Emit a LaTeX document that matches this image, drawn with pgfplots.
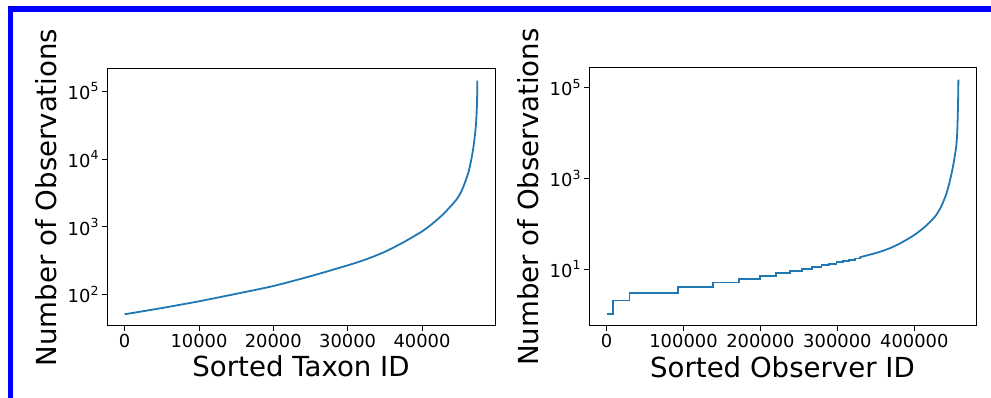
\documentclass[border=0pt]{standalone}
\usepackage{fontspec}
\setmainfont{DejaVu Sans}
\usepackage{pgfplots}
\pgfplotsset{compat=1.18}
\definecolor{mplblue}{HTML}{1F77B4}
\begin{document}
\begin{tikzpicture}
\path[use as bounding box] (0,0) rectangle (991pt,398pt);
\fill[blue] (8pt,0) rectangle (13pt,392pt);
\fill[blue] (8pt,386pt) rectangle (991pt,392pt);
\pgfplotsset{
  every axis/.append style={
    scale only axis, anchor=south west,
    axis line style={black, line width=1pt},
    every tick/.style={black, line width=0.8pt},
    tick align=outside,
    major tick length=5pt, minor tick length=3pt,
    xtick pos=left, ytick pos=left,
    /pgf/number format/assume math mode=true,
    ticklabel style={font=\fontsize{17.9}{20}\selectfont},
    label style={font=\fontsize{27.6}{31}\selectfont},
    scaled x ticks=false,
    xticklabel style={/pgf/number format/fixed,/pgf/number format/1000 sep={}},
    ymode=log, log basis y=10,
    yticklabel={\pgfmathtruncatemacro{\e}{round(\tick)}10\raisebox{0.42em}{\fontsize{12.5}{14}\selectfont\e}},
    xlabel style={at={(axis description cs:0.5,-0.198)}, anchor=base, inner sep=0pt},
    ylabel style={at={(axis description cs:-0.186,0.5)}, anchor=north, inner sep=0pt},
  }
}
\begin{axis}[at={(107pt,72pt)}, width=388pt, height=257pt,
  xmin=-2372, xmax=49822, ymin=34.3, ymax=213000,
  xtick={0,10000,20000,30000,40000},
  ytick={100,1000,10000,100000},
  xlabel={Sorted Taxon ID}, ylabel={Number of Observations}]
\addplot[mplblue, line width=1.8pt, smooth, tension=0.4, no markers] coordinates {
(0,51.1)(5000,63.1)(10000,79.4)(15000,102.3)(20000,133.4)(25000,186.2)(30000,269.2)
(32500,331.1)(35000,426.6)(37500,588.8)(40000,851.1)(41000,1023)(42000,1259)(43000,1585)
(43500,1820)(44000,2089)(44700,2570)(45200,3162)(45600,3981)(46000,5248)(46240,6310)
(46500,8318)(46700,10715)(46900,14454)(47000,17378)(47150,23988)(47230,29512)
(47300,38019)(47370,53703)(47420,83176)(47446,143218)
};
\end{axis}
\begin{axis}[at={(589pt,72pt)}, width=387pt, height=258pt,
  xmin=-22865, xmax=480165, ymin=0.55, ymax=272000,
  xtick={0,100000,200000,300000,400000},
  ytick={10,1000,100000}, minor ytick={},
  xlabel={Sorted Observer ID}, ylabel={Number of Observations}]
\addplot[mplblue, line width=1.8pt, no markers] coordinates {
(0,1)(8700,1)(8700,2)(29800,2)(29800,3)(92900,3)(92900,4)(138200,4)(138200,5)
(172300,5)(172300,6)(199500,6)(199500,7)(220200,7)(220200,8)(238300,8)(238300,9)
(253700,9)(253700,10)(267300,10)(267300,11)(279400,11)(279400,12)(289300,12)(289300,13)
(298800,13)(298800,14)(307400,14)(307400,15)(315200,15)(315200,16)(322500,16)(322500,17)
(329000,17)(329000,18)
};
\addplot[mplblue, line width=1.8pt, smooth, tension=0.4, no markers] coordinates {
(329000,18)(335000,19.2)(340000,20.2)(350000,22.4)(360000,25.4)(370000,29.5)
(380000,35.5)(389500,43.7)(400000,56.2)(411000,77.6)(420000,107.2)(428300,153.8)
(435000,239.9)(441300,436.5)(444500,676.1)(447800,1148)(450000,1738)(452100,2754)
(454300,4786)(455600,8913)(456400,22387)(457000,63096)(457300,150000)
};
\end{axis}
\end{tikzpicture}
\end{document}
